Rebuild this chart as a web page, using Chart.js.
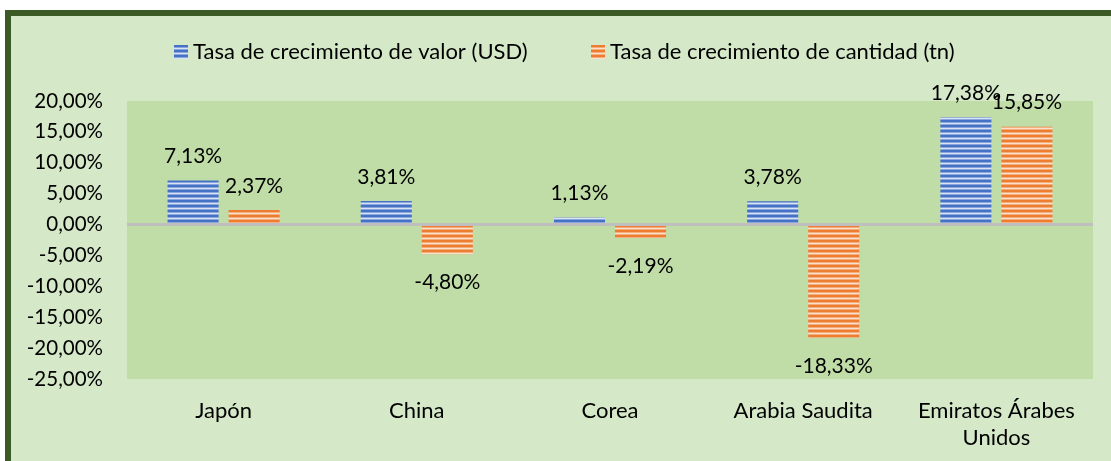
<!DOCTYPE html>
<html>
<head>
<meta charset="utf-8">
<script src="https://cdn.jsdelivr.net/npm/chart.js@4/dist/chart.umd.min.js"></script>
<style>
  html, body { margin: 0; padding: 0; background: #fff; }
  #wrap { width: 1111px; height: 461px; }
</style>
</head>
<body>
<div id="wrap"><canvas id="c" width="1111" height="461"></canvas></div>
<script>
// data
const categories = ['Japón', 'China', 'Corea', 'Arabia Saudita', ['Emiratos Árabes', 'Unidos']];
const valorUSD = [7.13, 3.81, 1.13, 3.78, 17.38];
const cantidadTn = [2.37, -4.80, -2.19, -18.33, 15.85];
const seriesNames = ['Tasa de crecimiento de valor (USD)', 'Tasa de crecimiento de cantidad (tn)'];
const yTicks = [20, 15, 10, 5, 0, -5, -10, -15, -20, -25];

const FONT = 'Lato, "Noto Sans", sans-serif';

// horizontal stripe fill like the Excel pattern
function stripes(dark, light, mid) {
  const p = document.createElement('canvas');
  p.width = 8; p.height = 5;
  const g = p.getContext('2d');
  g.fillStyle = dark; g.fillRect(0, 0, 8, 5);
  g.fillStyle = mid; g.fillRect(0, 2, 8, 1);
  g.fillStyle = light; g.fillRect(0, 3, 8, 1);
  g.fillStyle = mid; g.fillRect(0, 4, 8, 1);
  return g.createPattern(p, 'repeat');
}
const blueFill = stripes('#4472c4', '#d9e3f6', '#8aa6dc');
const orangeFill = stripes('#ed7d31', '#fbe0cc', '#f4ae7e');

const fmt = v => v.toFixed(2).replace('.', ',') + '%';

const frame = {
  id: 'frame',
  beforeDraw(chart) {
    const { ctx, chartArea: a } = chart;
    ctx.save();
    ctx.fillStyle = '#ffffff';
    ctx.fillRect(0, 0, chart.width, chart.height);
    ctx.fillStyle = '#3b5a26';
    ctx.fillRect(5, 10, chart.width, chart.height);
    ctx.fillStyle = '#d5e8c8';
    ctx.fillRect(11, 16, chart.width, chart.height);
    ctx.fillStyle = '#c0dda8';
    ctx.fillRect(a.left, a.top, a.right - a.left, a.bottom - a.top);
    ctx.restore();
  },
  afterDraw(chart) {
    // legend
    const ctx = chart.ctx;
    const pos = [174, 591];
    ctx.save();
    ctx.font = '22px ' + FONT;
    ctx.textBaseline = 'middle';
    chart.data.datasets.forEach((ds, i) => {
      ctx.fillStyle = ds.backgroundColor;
      ctx.fillRect(pos[i], 45, 14, 14);
      ctx.fillStyle = '#000';
      ctx.fillText(ds.label, pos[i] + 19, 52);
    });
    ctx.restore();
  }
};

const valueLabels = {
  id: 'valueLabels',
  afterDatasetsDraw(chart) {
    const ctx = chart.ctx;
    ctx.save();
    ctx.font = '21px ' + FONT;
    ctx.fillStyle = '#000';
    ctx.textAlign = 'center';
    ctx.textBaseline = 'middle';
    chart.data.datasets.forEach((ds, i) => {
      chart.getDatasetMeta(i).data.forEach((el, j) => {
        const v = ds.data[j];
        const y = v >= 0 ? el.y - 24 : el.y + 28;
        ctx.fillText(fmt(v), el.x, y);
      });
    });
    ctx.restore();
  }
};

new Chart(document.getElementById('c'), {
  type: 'bar',
  data: {
    labels: categories,
    datasets: [
      { label: seriesNames[0], data: valorUSD, backgroundColor: blueFill },
      { label: seriesNames[1], data: cantidadTn, backgroundColor: orangeFill }
    ]
  },
  options: {
    responsive: false,
    animation: false,
    devicePixelRatio: 1,
    categoryPercentage: 0.632,
    barPercentage: 0.836,
    layout: { padding: { top: 101, right: 18, left: 0, bottom: 0 } },
    plugins: { legend: { display: false }, tooltip: { enabled: false } },
    scales: {
      x: {
        grid: { display: false, drawTicks: false },
        border: { display: false },
        ticks: { color: '#000', font: { family: FONT, size: 22 }, padding: 19 },
        afterFit(s) { s.height = 82; }
      },
      y: {
        min: -25, max: 20,
        afterBuildTicks(s) { s.ticks = yTicks.map(v => ({ value: v })); },
        grid: {
          drawTicks: false,
          color: c => c.tick && c.tick.value === 0 ? '#bfbfbf' : 'rgba(0,0,0,0)',
          lineWidth: c => c.tick && c.tick.value === 0 ? 3 : 0
        },
        border: { display: false },
        ticks: {
          color: '#000', font: { family: FONT, size: 20.5 }, padding: 24,
          callback: v => v.toFixed(2).replace('.', ',') + '%'
        },
        afterFit(s) { s.width = 127; }
      }
    }
  },
  plugins: [frame, valueLabels]
});
</script>
</body>
</html>
